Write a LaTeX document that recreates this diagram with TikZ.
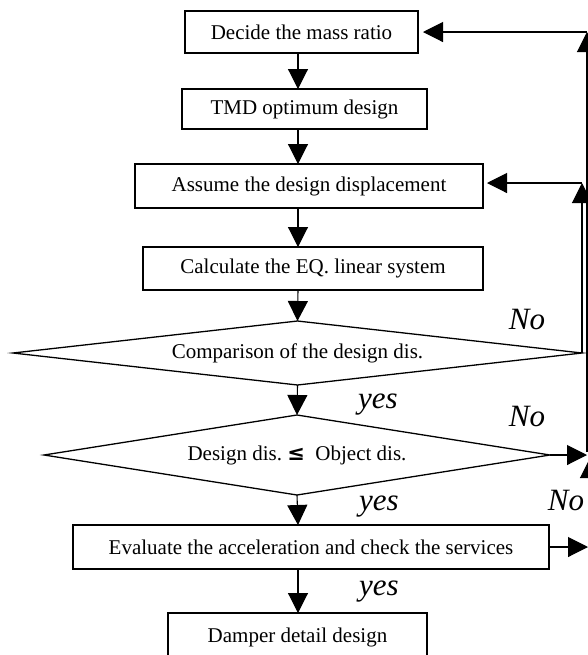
\documentclass[tikz,border=0pt]{standalone}
\usepackage{fontspec}
\setmainfont{Liberation Serif}
\newfontfamily\symfont{DejaVu Sans}
\usetikzlibrary{arrows.meta,shapes.geometric}

\begin{document}
\begin{tikzpicture}[x=0.5pt,y=-0.5pt,
    every node/.style={font=\fontsize{10.5}{12}\selectfont},
    box/.style={draw,line width=0.65pt,inner sep=0pt,outer sep=0pt},
    test/.style={draw,diamond,line width=0.65pt,inner sep=0pt,outer sep=0pt},
    arr/.style={line width=0.55pt,-{Triangle[width=10pt,length=10pt]}},
    lbl/.style={font=\fontsize{15.5}{18}\selectfont\itshape}]
      \useasboundingbox (0,0) rectangle (588,655);
      \clip (0,0) rectangle (588,655);

      \node[box,minimum width=116.5pt,minimum height=21pt] at (301.5,32) (mass) {Decide the mass ratio};
      \node[box,minimum width=122.5pt,minimum height=20pt] at (304.5,109) (tmd) {TMD optimum design};
      \node[box,minimum width=174pt,minimum height=22pt] at (309,186) (assume) {Assume the design displacement};
      \node[box,minimum width=170pt,minimum height=21.5pt] at (313,268.5) (eqsys) {Calculate the EQ. linear system};
      \node[test,shape aspect=9,minimum width=284.5pt,minimum height=32pt] at (297.5,353) (cmp) {Comparison of the design dis.};
      \node[test,shape aspect=6.3,minimum width=253pt,minimum height=40pt] at (297,455) (chk) {Design dis.~{\symfont\bfseries ≤}~~Object dis.};
      \node[box,minimum width=238pt,minimum height=22pt] at (311,547) (eval) {Evaluate the acceleration and check the services};
      \node[box,minimum width=129.5pt,minimum height=24pt] at (297.5,637) (damper) {Damper detail design};

      \coordinate (col) at (298,0);
      \coordinate (up1) at (582,183);
      \coordinate (hit2) at (587,455);
      \coordinate (up2) at (587,452);
      \coordinate (top) at (587,32);
      \coordinate (svc) at (588,547);
      \coordinate (svcdn) at (590,547);
      \coordinate (svcup) at (590,458);

      \draw[arr] (mass.south -| col) -- (tmd.north -| col);
      \draw[arr] (tmd.south -| col) -- (assume.north -| col);
      \draw[arr] (assume.south -| col) -- (eqsys.north -| col);
      \draw[arr] (eqsys.south -| col) -- (cmp.north);
      \draw[arr] (cmp.south) -- (chk.north);
      \draw[arr] (chk.south) -- (eval.north -| col);
      \draw[arr] (eval.south -| col) -- (damper.north -| col);

      % loops back on the right
      \draw[arr] (cmp.east) -- (up1);
      \draw[arr,shorten >=2pt] (up1) -- (assume.east |- up1);
      \draw[arr] (chk.east) -- (hit2);
      \draw[arr] (up2) -- (top);
      \draw[arr,shorten >=2.5pt] (top) -- (mass.east);
      \draw[arr] (eval.east) -- (svc);
      \draw[arr] (svcdn) -- (svcup);

      \node[lbl] at (527,319) (no1) {No};
      \node[lbl] at (378,405) (yes1) {yes};
      \node[lbl] at (527,416) (no2) {No};
      \node[lbl] at (379,507) (yes2) {yes};
      \node[lbl] at (566,500) (no3) {No};
      \node[lbl] at (379,592) (yes3) {yes};
    \end{tikzpicture}
\end{document}
